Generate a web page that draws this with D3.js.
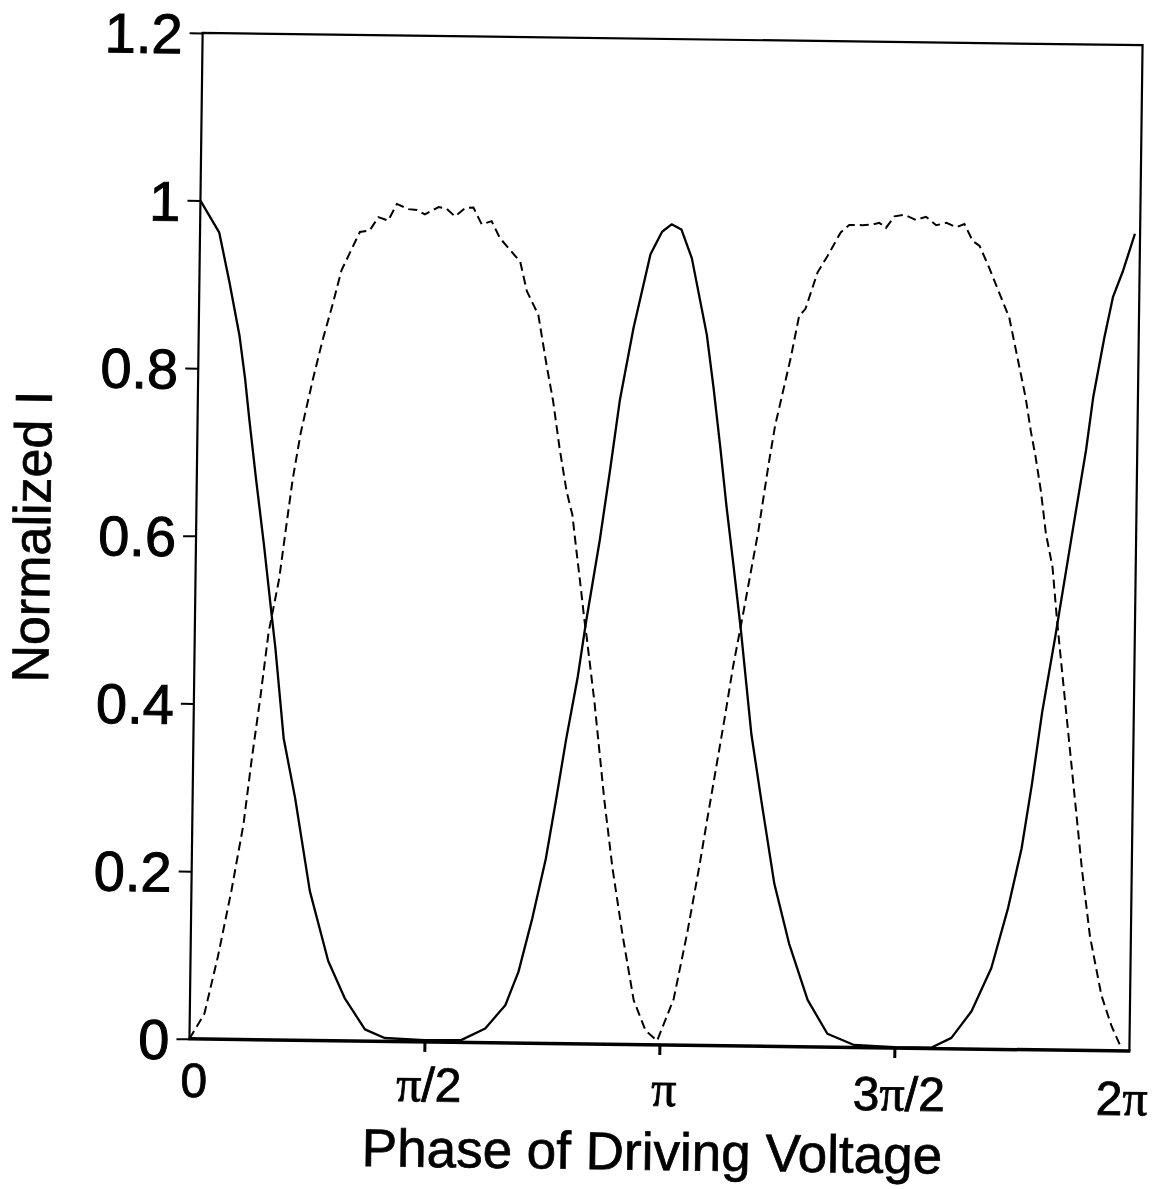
<!DOCTYPE html>
<html>
<head>
<meta charset="utf-8">
<script src="https://cdn.jsdelivr.net/npm/d3@7/dist/d3.min.js"></script>
<style>
  html, body { margin: 0; padding: 0; background: #fff; }
  svg { display: block; }
</style>
</head>
<body>
<div id="chart"></div>
<script>
// ---------- data (phase in units of pi, normalized intensity) ----------
const solidPhase = [0, 0.041, 0.064, 0.087, 0.100, 0.110, 0.126, 0.145, 0.163, 0.172, 0.192, 0.218, 0.252, 0.293, 0.329, 0.373, 0.415, 0.500, 0.579, 0.629, 0.671, 0.698, 0.726, 0.753, 0.773, 0.793, 0.816, 0.832, 0.859, 0.879, 0.898, 0.925, 0.959, 0.983, 1.003, 1.024, 1.047, 1.081, 1.097, 1.113, 1.128, 1.144, 1.162, 1.187, 1.210, 1.240, 1.273, 1.314, 1.357, 1.414, 1.500, 1.578, 1.621, 1.663, 1.704, 1.738, 1.765, 1.785, 1.805, 1.831, 1.864, 1.891, 1.905, 1.927, 1.944, 1.965, 1.989];
const solidValue = [1.000, 0.962, 0.903, 0.839, 0.788, 0.740, 0.669, 0.589, 0.507, 0.467, 0.360, 0.289, 0.178, 0.095, 0.051, 0.014, 0.004, 0.002, 0.003, 0.017, 0.045, 0.085, 0.149, 0.220, 0.290, 0.363, 0.438, 0.503, 0.601, 0.685, 0.769, 0.855, 0.943, 0.970, 0.979, 0.973, 0.939, 0.848, 0.784, 0.713, 0.642, 0.574, 0.495, 0.372, 0.293, 0.194, 0.123, 0.056, 0.016, 0.003, 0.001, 0.001, 0.013, 0.045, 0.097, 0.169, 0.240, 0.316, 0.403, 0.494, 0.617, 0.716, 0.780, 0.851, 0.899, 0.931, 0.975];

const dashedPhase = [0, 0.031, 0.058, 0.085, 0.109, 0.125, 0.141, 0.157, 0.178, 0.191, 0.204, 0.220, 0.244, 0.264, 0.285, 0.302, 0.340, 0.361, 0.379, 0.400, 0.418, 0.443, 0.461, 0.478, 0.507, 0.524, 0.542, 0.563, 0.581, 0.599, 0.620, 0.638, 0.660, 0.682, 0.697, 0.722, 0.741, 0.756, 0.771, 0.787, 0.800, 0.809, 0.820, 0.828, 0.833, 0.852, 0.876, 0.895, 0.918, 0.944, 0.970, 0.995, 1.029, 1.056, 1.080, 1.096, 1.113, 1.130, 1.146, 1.164, 1.196, 1.216, 1.229, 1.243, 1.260, 1.277, 1.290, 1.315, 1.336, 1.363, 1.381, 1.409, 1.431, 1.445, 1.459, 1.477, 1.498, 1.523, 1.544, 1.566, 1.588, 1.609, 1.626, 1.644, 1.659, 1.680, 1.706, 1.724, 1.747, 1.761, 1.773, 1.784, 1.796, 1.808, 1.823, 1.834, 1.846, 1.862, 1.878, 1.894, 1.913, 1.939, 1.961, 1.979];
const dashedValue = [0.000, 0.030, 0.098, 0.177, 0.257, 0.336, 0.407, 0.486, 0.550, 0.610, 0.669, 0.725, 0.788, 0.836, 0.880, 0.919, 0.965, 0.967, 0.983, 0.979, 0.999, 0.993, 0.992, 0.987, 0.996, 0.994, 0.985, 0.995, 0.996, 0.976, 0.980, 0.960, 0.946, 0.932, 0.897, 0.869, 0.809, 0.766, 0.710, 0.659, 0.631, 0.591, 0.544, 0.508, 0.489, 0.409, 0.291, 0.211, 0.132, 0.053, 0.017, 0.005, 0.055, 0.134, 0.214, 0.272, 0.332, 0.392, 0.452, 0.509, 0.614, 0.694, 0.741, 0.777, 0.821, 0.872, 0.880, 0.924, 0.944, 0.972, 0.981, 0.981, 0.982, 0.984, 0.978, 0.992, 0.994, 0.988, 0.992, 0.982, 0.985, 0.980, 0.984, 0.964, 0.958, 0.932, 0.897, 0.873, 0.814, 0.778, 0.738, 0.707, 0.667, 0.616, 0.576, 0.513, 0.453, 0.374, 0.295, 0.216, 0.136, 0.066, 0.030, 0.008];

const yTickValues = [0, 0.2, 0.4, 0.6, 0.8, 1.0, 1.2];
const yTickLabels = ["0", "0.2", "0.4", "0.6", "0.8", "1", "1.2"];
const xTickValues = [0, 0.5, 1, 1.5, 2];
// each label: [prefix digits, has pi, suffix]
const xTickLabels = [["0", false, ""], ["", true, "/2"], ["", true, ""], ["3", true, "/2"], ["2", true, ""]];
const xTitle = "Phase of Driving Voltage";
const yTitle = "Normalized I";

// ---------- layout ----------
const W = 1157, H = 1189;
const pLeft = 196, pRight = 1136, pTop = 39, pBottom = 1045;
const sans = "'Liberation Sans', Arial, Helvetica, sans-serif";
const serif = "'Liberation Serif', 'Times New Roman', serif";

const svg = d3.select("#chart").append("svg")
  .attr("width", W).attr("height", H)
  .attr("viewBox", `0 0 ${W} ${H}`);
svg.append("rect").attr("width", W).attr("height", H).attr("fill", "#fff");

const g = svg.append("g").attr("transform", "rotate(0.75, 666, 543)");

const x = d3.scaleLinear().domain([0, 2]).range([pLeft, pRight]);
const y = d3.scaleLinear().domain([0, 1.2]).range([pBottom, pTop]);

// frame
g.append("path")
  .attr("d", `M${pLeft},${pBottom} L${pLeft},${pTop} L${pRight},${pTop} L${pRight},${pBottom}`)
  .attr("fill", "none").attr("stroke", "#000").attr("stroke-width", 2.2);
g.append("line")
  .attr("x1", pLeft - 1).attr("x2", pRight + 1).attr("y1", pBottom).attr("y2", pBottom)
  .attr("stroke", "#000").attr("stroke-width", 3.5);

// y axis
const yAxis = d3.axisLeft(y)
  .tickValues(yTickValues)
  .tickFormat((d, i) => yTickLabels[i])
  .tickSize(13).tickPadding(7);
const ya = g.append("g").attr("transform", `translate(${pLeft},0)`).call(yAxis);
ya.select(".domain").remove();
ya.selectAll(".tick line").attr("stroke", "#000").attr("stroke-width", 2);
ya.selectAll(".tick text")
  .attr("fill", "#000")
  .attr("stroke", "#000").attr("stroke-width", 1)
  .style("font-family", sans).style("font-size", "56px")
  .attr("dy", "0.36em");

// x axis ticks (inner ones only)
const xa = g.append("g").attr("transform", `translate(0,${pBottom})`);
const xAxis = d3.axisBottom(x).tickValues(xTickValues.slice(1, 4)).tickSize(10).tickFormat("");
xa.call(xAxis);
xa.select(".domain").remove();
xa.selectAll(".tick line").attr("stroke", "#000").attr("stroke-width", 3);

// x tick labels
const lab = g.append("g");
xTickValues.forEach((v, i) => {
  const [pre, pi, suf] = xTickLabels[i];
  const t = lab.append("text")
    .attr("x", x(v) + (i === 4 ? -7 : 5))
    .attr("y", pBottom + 58 + i * 1.5)
    .attr("text-anchor", "middle")
    .style("font-size", "48px")
    .style("font-family", sans)
    .attr("fill", "#000")
    .attr("stroke", "#000").attr("stroke-width", 0.8);
  if (pre) t.append("tspan").text(pre);
  if (pi) t.append("tspan").style("font-family", serif).style("font-size", "50px").text("\u03C0");
  if (suf) t.append("tspan").text(suf);
});

// curves
const line = d3.line().x(d => x(d[0])).y(d => y(d[1])).curve(d3.curveLinear);
const solidData = solidPhase.map((p, i) => [p, solidValue[i]]);
const dashedData = dashedPhase.map((p, i) => [p, dashedValue[i]]);

g.append("path").datum(dashedData)
  .attr("d", line).attr("fill", "none")
  .attr("stroke", "#000").attr("stroke-width", 2)
  .attr("stroke-dasharray", "9,5");
g.append("path").datum(solidData)
  .attr("d", line).attr("fill", "none")
  .attr("stroke", "#000").attr("stroke-width", 2.3)
  .attr("stroke-linejoin", "round");

// titles
g.append("text")
  .attr("x", 660).attr("y", 1170)
  .attr("text-anchor", "middle")
  .style("font-family", sans).style("font-size", "53px")
  .attr("fill", "#000")
  .attr("stroke", "#000").attr("stroke-width", 0.7)
  .text(xTitle);

g.append("text")
  .attr("transform", "translate(50,545) rotate(-90)")
  .attr("text-anchor", "middle")
  .style("font-family", sans).style("font-size", "52px")
  .attr("fill", "#000")
  .attr("stroke", "#000").attr("stroke-width", 0.7)
  .text(yTitle);
</script>
</body>
</html>
